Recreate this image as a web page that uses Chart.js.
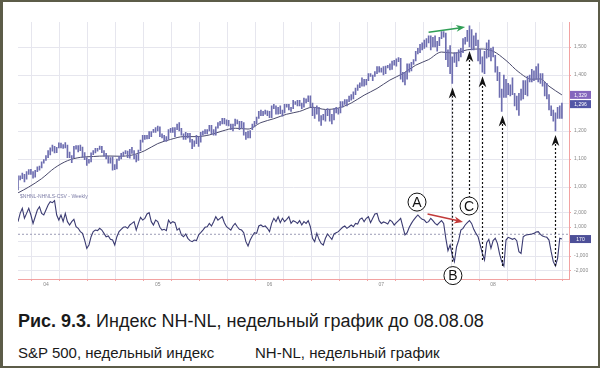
<!DOCTYPE html>
<html>
<head>
<meta charset="utf-8">
<script src="https://cdn.jsdelivr.net/npm/chart.js@4.4.1/dist/chart.umd.min.js"></script>
<style>
  html, body { margin: 0; padding: 0; background: #fff; }
  #page { position: relative; width: 600px; height: 368px; overflow: hidden; background: #fff; }
  #weekly { position: absolute; left: 0; top: 0; }
  #frame { position: absolute; left: 0; top: 0; width: 600px; height: 368px; box-sizing: border-box;
           border: 2px solid #5c5c48; border-left-width: 3px; pointer-events: none; }
  .cap { position: absolute; left: 18px; margin: 0; font-family: "Liberation Sans", Arial, sans-serif;
         color: #1a1a1a; white-space: nowrap; line-height: 1; }
  #title { top: 312px; font-size: 18px; }
  #sub1 { top: 345px; font-size: 15px; }
  #sub2 { top: 345px; left: 255px; font-size: 15px; }
</style>
</head>
<body>
<div id="page">
  <canvas id="weekly" width="600" height="290"></canvas>
  <p class="cap" id="title"><b>Рис. 9.3.</b> Индекс NH-NL, недельный график до 08.08.08</p>
  <p class="cap" id="sub1">S&amp;P 500, недельный индекс</p>
  <p class="cap" id="sub2">NH-NL, недельный график</p>
  <div id="frame"></div>
</div>
<script>
// S&P 500 weekly bars, week 0 = 03.10.2003, last = 08.08.2008
const lows = [
  990,1025,1030,1018,1028,1045,1045,1032,1035,1055,
  1060,1068,1085,1095,1105,1115,1128,1122,1123,1140,
  1140,1138,1140,1105,1105,1087,1105,1135,1125,1130,
  1107,1098,1077,1085,1090,1116,1122,1128,1134,1123,
  1110,1100,1085,1085,1060,1062,1065,1095,1100,1110,
  1118,1105,1103,1120,1100,1090,1095,1130,1160,1170,
  1172,1173,1180,1195,1195,1200,1180,1175,1165,1163,
  1170,1195,1195,1180,1205,1200,1185,1170,1170,1175,
  1160,1137,1145,1155,1145,1160,1185,1190,1190,1200,
  1190,1185,1185,1210,1220,1225,1225,1220,1218,1205,
  1200,1218,1225,1205,1210,1185,1170,1175,1175,1205,
  1215,1225,1245,1255,1255,1260,1255,1248,1248,1280,
  1260,1260,1262,1253,1265,1285,1275,1270,1280,1295,
  1290,1290,1280,1285,1300,1305,1285,1255,1245,1260,
  1235,1220,1240,1235,1255,1235,1225,1240,1265,1260,
  1265,1285,1295,1290,1305,1310,1315,1330,1345,1355,
  1360,1360,1365,1380,1395,1380,1395,1405,1410,1410,
  1400,1405,1425,1418,1420,1435,1432,1448,1385,1375,
  1365,1385,1410,1415,1438,1450,1475,1480,1490,1495,
  1500,1515,1490,1500,1500,1485,1505,1530,1535,1455,
  1430,1405,1370,1445,1430,1450,1465,1480,1510,1520,
  1500,1490,1490,1505,1450,1440,1410,1405,1460,1465,
  1450,1465,1410,1380,1320,1270,1320,1320,1330,1325,
  1330,1290,1275,1256,1310,1315,1330,1325,1375,1375,
  1380,1385,1375,1370,1360,1325,1315,1275,1255,1235,
  1200,1245,1245,1245
];
const highs = [
  1040,1040,1050,1045,1055,1062,1063,1055,1060,1072,
  1075,1090,1098,1112,1130,1140,1150,1145,1142,1158,
  1157,1152,1159,1150,1125,1112,1145,1148,1148,1150,
  1143,1123,1105,1099,1122,1130,1138,1138,1146,1145,
  1130,1120,1110,1105,1108,1080,1100,1110,1120,1125,
  1130,1128,1135,1142,1130,1115,1132,1168,1185,1185,
  1185,1198,1198,1206,1212,1218,1215,1190,1185,1180,
  1205,1210,1212,1212,1225,1230,1210,1190,1195,1192,
  1192,1170,1165,1185,1180,1195,1200,1205,1205,1220,
  1220,1205,1215,1230,1235,1245,1245,1240,1238,1225,
  1225,1243,1240,1235,1235,1230,1195,1200,1202,1225,
  1235,1250,1270,1275,1270,1275,1272,1270,1290,1295,
  1290,1285,1290,1275,1295,1295,1295,1285,1310,1305,
  1310,1310,1300,1318,1315,1326,1326,1300,1285,1290,
  1285,1255,1260,1275,1280,1275,1260,1280,1285,1280,
  1305,1305,1312,1312,1325,1330,1340,1353,1365,1372,
  1390,1385,1385,1405,1405,1400,1412,1430,1430,1425,
  1430,1432,1435,1440,1450,1452,1458,1462,1460,1410,
  1410,1440,1440,1445,1455,1485,1495,1510,1515,1525,
  1530,1540,1540,1535,1540,1520,1535,1555,1555,1550,
  1490,1505,1465,1480,1480,1490,1495,1530,1535,1560,
  1576,1562,1540,1550,1525,1492,1465,1485,1515,1525,
  1495,1500,1470,1430,1410,1350,1400,1385,1370,1365,
  1390,1335,1325,1335,1350,1380,1380,1395,1400,1420,
  1415,1430,1440,1405,1405,1375,1370,1330,1290,1275,
  1265,1285,1290,1300
];
const lastClose = 1296;

const maWeeks = [0,5,11,17,23,29,35,41,47,53,59,65,71,77,83,89,95,101,107,113,
  119,125,131,137,143,149,155,161,167,173,179,185,191,197,203,209,215,221,227,233,
  239,243,247,253];
const maValues = [979,1000,1030,1068,1094,1106,1109,1111,1110,1114,1130,1155,1170,1180,1180,1186,1200,1210,1207,1230,
  1244,1260,1270,1285,1277,1282,1300,1328,1352,1382,1405,1435,1455,1482,1478,1490,1493,1485,1452,1410,
  1385,1386,1360,1329];

// NH-NL weekly
const nhValues = [
  1370,1940,2290,1600,1940,2290,1830,1250,1710,2170,
  2400,1940,1830,2170,2520,2750,2680,2820,1830,1480,
  1830,1370,1940,1370,1140,1370,1530,1020,910,680,
  560,100,-470,-240,330,680,790,750,910,790,
  560,330,380,150,100,-240,330,680,840,980,
  1020,910,1140,1250,1370,790,1250,1670,1480,1600,
  1900,1990,1370,1140,1480,1370,980,790,840,750,
  1480,1250,1370,1300,790,910,450,330,520,220,
  60,-10,100,60,450,610,790,980,1020,1250,
  1070,1370,1710,1480,1600,1710,1300,1020,910,790,
  1070,1250,1020,840,790,610,-10,-310,100,380,
  610,560,1070,1140,1020,1070,910,680,1250,1600,
  1370,1710,1300,1600,1370,1530,1710,1250,1440,1370,
  1250,1440,1140,1370,1250,1440,1020,220,-10,560,
  150,-130,-240,220,520,330,150,520,610,680,
  840,980,1070,910,1020,1140,1020,1250,1210,1530,
  1620,1370,1600,1710,1300,1600,1900,1940,1440,1250,
  1350,1300,1210,1480,1370,1140,1300,1440,1600,1020,
  450,610,980,1250,1480,1670,1830,1670,1530,1480,
  1300,1370,1600,1440,1250,1140,1300,1440,1250,220,
  -630,-240,-930,-1390,-360,100,790,910,1140,1300,
  1440,1250,840,560,330,-240,-820,-1280,-80,150,
  -470,60,220,-130,-860,-1390,-1690,100,290,220,
  150,220,60,-700,-820,330,430,470,490,520,
  560,660,680,490,380,330,290,100,-700,-1390,
  -1690,-1160,220,170
];
const nhRefLevel = 500;

const priceTicks = [1000,1050,1100,1150,1200,1250,1300,1350,1400,1450,1500,1550];
const nhTicks = [2000,1000,0,-1000,-2000];
const quarterWeeks = [0,13,26,39,52,65,78,91,104,117,130,143,156,169,182,195,208,221,234,247];
const yearWeeks = [13,65,117,169,221];
const yearLabels = ['04','05','06','07','08'];

// annotations
const arrowWeeks = [202,210,216,225,250];
const circleLabels = ['A','B','C'];
const circleWeeks = [185.6,202.3,209.8];
const circleLevels = [2720,-2350,2450];
const greenWeeks = [191,208];
const greenPrices = [1553,1571];
const redWeeks = [190.5,207];
const redLevels = [1900,1350];

const xMax = 256.3;
const pink = '#f2a2a2';
const gridColor = '#e6e6ee';
const tickFont = { family: 'Liberation Sans', size: 5 };
const fmt = v => v.toLocaleString('en-US');

function arrowHead(ctx, x1, y1, x2, y2, len, half, color) {
  const a = Math.atan2(y2 - y1, x2 - x1);
  ctx.save();
  ctx.translate(x2, y2);
  ctx.rotate(a);
  ctx.beginPath();
  ctx.moveTo(0, 0);
  ctx.lineTo(-len, -half);
  ctx.lineTo(-len * 0.7, 0);
  ctx.lineTo(-len, half);
  ctx.closePath();
  ctx.fillStyle = color;
  ctx.fill();
  ctx.restore();
}

function valueBox(ctx, scale, value, text, color) {
  const py = scale.getPixelForValue(value);
  ctx.fillStyle = color;
  ctx.fillRect(scale.left + 1, py - 4, 21, 8);
  ctx.fillStyle = '#fff';
  ctx.font = '5px "Liberation Sans"';
  ctx.textAlign = 'center';
  ctx.textBaseline = 'middle';
  ctx.fillText(text, scale.left + 11.5, py + 0.5);
}

const marks = {
  id: 'marks',
  afterDatasetsDraw(chart) {
    const { ctx, scales: { x, y, y2 } } = chart;
    ctx.save();

    // dotted arrows from NH-NL up to the price lows
    arrowWeeks.forEach(w => {
      const px = Math.round(x.getPixelForValue(w)) + 0.5;
      const tip = y.getPixelForValue(lows[w]) + 4;
      let base = y2.getPixelForValue(Math.min(nhValues[w - 1], nhValues[w], nhValues[w + 1]));
      circleWeeks.forEach((cw, k) => {
        if (Math.abs(cw - w) < 0.6 && circleLevels[k] > nhValues[w]) base = y2.getPixelForValue(circleLevels[k]);
      });
      ctx.strokeStyle = '#111';
      ctx.lineWidth = 1.2;
      ctx.setLineDash([2, 2]);
      ctx.beginPath();
      ctx.moveTo(px, base);
      ctx.lineTo(px, tip + 7);
      ctx.stroke();
      ctx.setLineDash([]);
      arrowHead(ctx, px, tip + 20, px, tip, 11, 3.8, '#111');
    });

    // green arrow on prices, red arrow on NH-NL
    const g1 = [x.getPixelForValue(greenWeeks[0]), y.getPixelForValue(greenPrices[0])];
    const g2 = [x.getPixelForValue(greenWeeks[1]), y.getPixelForValue(greenPrices[1])];
    ctx.strokeStyle = '#2f9e55';
    ctx.lineWidth = 1.5;
    ctx.beginPath(); ctx.moveTo(g1[0], g1[1]); ctx.lineTo(g2[0] - 6, g2[1] + 0.8); ctx.stroke();
    arrowHead(ctx, g1[0], g1[1], g2[0], g2[1], 9, 3.5, '#2f9e55');

    const r1 = [x.getPixelForValue(redWeeks[0]), y2.getPixelForValue(redLevels[0])];
    const r2 = [x.getPixelForValue(redWeeks[1]), y2.getPixelForValue(redLevels[1])];
    ctx.strokeStyle = '#c23a3a';
    ctx.beginPath(); ctx.moveTo(r1[0], r1[1]); ctx.lineTo(r2[0] - 6, r2[1] - 1.4); ctx.stroke();
    arrowHead(ctx, r1[0], r1[1], r2[0], r2[1], 9, 3.5, '#c23a3a');

    // circled letters
    circleLabels.forEach((t, k) => {
      const cx = x.getPixelForValue(circleWeeks[k]);
      const cy = y2.getPixelForValue(circleLevels[k]);
      ctx.beginPath();
      ctx.arc(cx, cy, 9, 0, Math.PI * 2);
      ctx.fillStyle = '#fff';
      ctx.fill();
      ctx.strokeStyle = '#111';
      ctx.lineWidth = 1;
      ctx.stroke();
      ctx.fillStyle = '#111';
      ctx.font = '14px "Liberation Sans"';
      ctx.textAlign = 'center';
      ctx.textBaseline = 'middle';
      ctx.fillText(t, cx, cy + 1);
    });
    ctx.restore();
  },
  afterDraw(chart) {
    const { ctx, chartArea, scales: { y, y2 } } = chart;
    ctx.save();
    valueBox(ctx, y, maValues[maValues.length - 1], fmt(maValues[maValues.length - 1]), '#8466bd');
    valueBox(ctx, y, lastClose, fmt(lastClose), '#5256a6');
    valueBox(ctx, y2, nhValues[nhValues.length - 1], fmt(nhValues[nhValues.length - 1]), '#4d4f98');
    ctx.fillStyle = '#7c7ca6';
    ctx.font = '5px "Liberation Sans"';
    ctx.textAlign = 'left';
    ctx.textBaseline = 'top';
    ctx.fillText('$NHNL-NHNLS-CSV - Weekly', chartArea.left + 2, y2.top + 1);
    ctx.restore();
  }
};

new Chart(document.getElementById('weekly'), {
  type: 'bar',
  data: {
    datasets: [
      {
        type: 'bar',
        label: 'S&P 500',
        data: lows.map((lo, i) => ({ x: i, y: [lo, highs[i]] })),
        yAxisID: 'y',
        backgroundColor: '#6e6eb0',
        borderWidth: 0,
        barThickness: 1,
        grouped: false
      },
      {
        type: 'line',
        label: 'MA',
        data: maWeeks.map((w, i) => ({ x: w, y: maValues[i] })),
        yAxisID: 'y',
        borderColor: '#4a4a6c',
        borderWidth: 1,
        pointRadius: 0,
        cubicInterpolationMode: 'monotone'
      },
      {
        type: 'line',
        label: 'NH-NL',
        data: nhValues.map((v, i) => ({ x: i, y: v })),
        yAxisID: 'y2',
        borderColor: '#3b3b72',
        borderWidth: 1.1,
        pointRadius: 0,
        tension: 0
      },
      {
        type: 'line',
        label: 'level',
        data: [{ x: 0, y: nhRefLevel }, { x: xMax, y: nhRefLevel }],
        yAxisID: 'y2',
        borderColor: '#9c9cb6',
        borderWidth: 1,
        borderDash: [2, 2],
        pointRadius: 0
      }
    ]
  },
  options: {
    responsive: false,
    animation: false,
    layout: { padding: { left: 18, top: 22, right: 0, bottom: 0 } },
    plugins: { legend: { display: false }, tooltip: { enabled: false } },
    scales: {
      x: {
        type: 'linear',
        min: 0,
        max: xMax,
        offset: false,
        afterBuildTicks: s => { s.ticks = quarterWeeks.map(v => ({ value: v })); },
        afterFit: s => { s.height = 11; },
        ticks: {
          autoSkip: false,
          maxRotation: 0,
          font: tickFont,
          color: '#888',
          padding: 1,
          callback: v => { const k = yearWeeks.indexOf(v); return k < 0 ? '' : yearLabels[k]; }
        },
        grid: { color: gridColor, tickLength: 2, tickColor: pink },
        border: { color: pink }
      },
      y: {
        position: 'right',
        stack: 'panes',
        stackWeight: 2,
        min: 977.5,
        max: 1589.3,
        afterBuildTicks: s => { s.ticks = priceTicks.map(v => ({ value: v })); },
        afterFit: s => { s.width = 31; },
        ticks: { font: tickFont, color: '#888', padding: 3, callback: v => fmt(v) },
        grid: { color: gridColor, tickLength: 2, tickColor: pink },
        border: { color: pink }
      },
      y2: {
        position: 'right',
        stack: 'panes',
        stackWeight: 1,
        min: -2586,
        max: 3324,
        afterBuildTicks: s => { s.ticks = nhTicks.map(v => ({ value: v })); },
        afterFit: s => { s.width = 31; },
        ticks: { font: tickFont, color: '#888', padding: 3, callback: v => v === 0 ? '' : fmt(v) },
        grid: { color: gridColor, tickLength: 2, tickColor: pink },
        border: { color: pink }
      }
    }
  },
  plugins: [marks]
});
</script>
</body>
</html>
